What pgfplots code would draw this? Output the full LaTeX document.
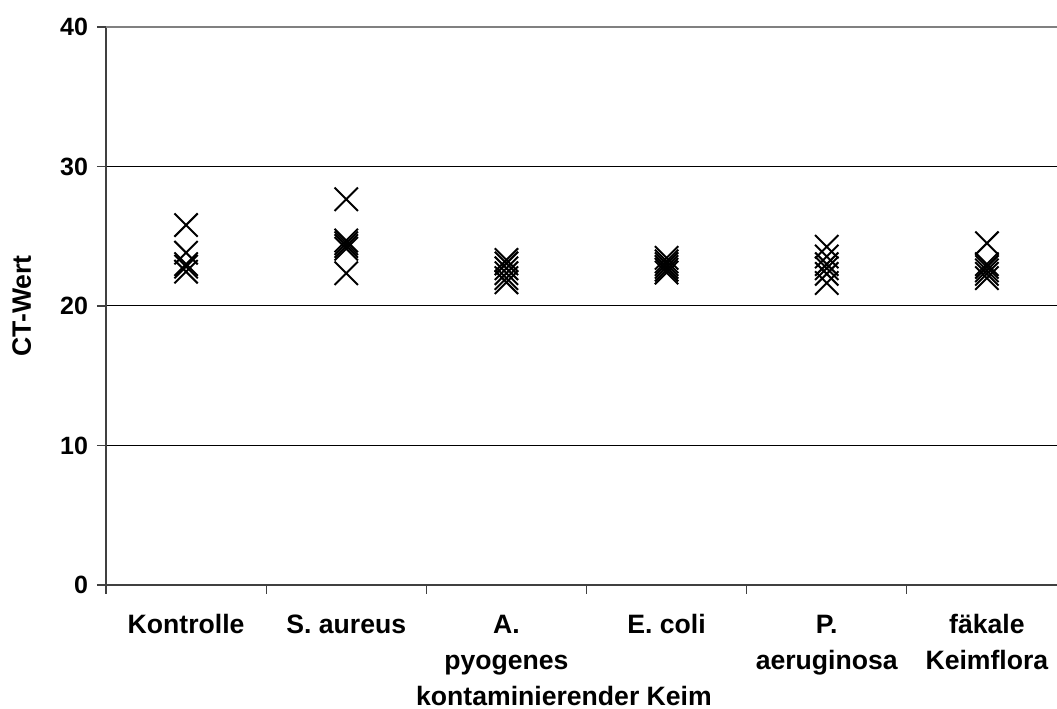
\documentclass[border=0pt]{standalone}
\usepackage{pgfplots}
\pgfplotsset{compat=1.18}
\usepackage{fontspec}
\setmainfont{Liberation Sans}

\newcommand{\yl}[1]{{\fontsize{12.5}{14}\selectfont\bfseries #1}}

% CT values per contaminant (x = category centre)
\pgfplotstableread{
x y
0.5 25.80
0.5 23.82
0.5 23.00
0.5 22.82
0.5 22.46
}\kontrolle
\pgfplotstableread{
x y
1.5 27.65
1.5 24.70
1.5 24.50
1.5 24.30
1.5 24.10
1.5 22.35
}\saureus
\pgfplotstableread{
x y
2.5 23.30
2.5 23.05
2.5 22.70
2.5 22.35
2.5 22.00
2.5 21.70
}\apyogenes
\pgfplotstableread{
x y
3.5 23.45
3.5 23.20
3.5 23.00
3.5 22.80
3.5 22.60
3.5 22.40
}\ecoli
\pgfplotstableread{
x y
4.5 24.25
4.5 23.55
4.5 23.00
4.5 22.70
4.5 22.30
4.5 21.65
}\paeruginosa
\pgfplotstableread{
x y
5.5 24.50
5.5 23.00
5.5 22.80
5.5 22.55
5.5 22.30
5.5 22.00
}\faekal

\begin{document}
\begin{tikzpicture}
\begin{axis}[
  name=ax,
  scale only axis,
  width=480.5pt, height=279pt,
  xmin=0, xmax=6, ymin=0, ymax=40,
  axis x line*=bottom, axis y line*=left,
  axis line style={black!75, line width=1pt},
  xtick={0,...,6},
  x tick label as interval,
  xticklabels={\strut Kontrolle, \strut S. aureus, {\strut A.\\pyogenes}, \strut E. coli, {\strut P.\\aeruginosa}, {\strut fäkale\\Keimflora}},
  ytick={0,10,20,30,40},
  yticklabels={\yl{0},\yl{10},\yl{20},\yl{30},\yl{40}},
  ymajorgrids,
  major grid style={black, line width=0.5pt},
  tick align=outside,
  major tick length=4.5pt,
  tick style={black!75, line width=0.6pt},
  xticklabel style={font=\fontsize{13.3}{18}\selectfont\bfseries, align=center, anchor=north, yshift=-3.5pt},
  yticklabel style={anchor=east, xshift=-1pt},
  xlabel={kontaminierender Keim},
  ylabel={CT-Wert},
  xlabel style={font=\fontsize{13.3}{15}\selectfont\bfseries, at={(axis description cs:0.4766,0)}, anchor=base, yshift=-60.5pt},
  ylabel style={font=\fontsize{13.3}{15}\selectfont\bfseries, at={(axis description cs:-0.0877,0.5)}, anchor=center},
  clip=false,
]
\addplot[only marks, mark=x, mark size=8.25pt, mark options={line width=1pt}, black] table {\kontrolle};
\addplot[only marks, mark=x, mark size=8.25pt, mark options={line width=1pt}, black] table {\saureus};
\addplot[only marks, mark=x, mark size=8.25pt, mark options={line width=1pt}, black] table {\apyogenes};
\addplot[only marks, mark=x, mark size=8.25pt, mark options={line width=1pt}, black] table {\ecoli};
\addplot[only marks, mark=x, mark size=8.25pt, mark options={line width=1pt}, black] table {\paeruginosa};
\addplot[only marks, mark=x, mark size=8.25pt, mark options={line width=1pt}, black] table {\faekal};
% grey plot-area border along the top
\draw[gray, line width=1pt] (axis cs:0,40) -- (axis cs:6,40);
\end{axis}
\pgfresetboundingbox
\useasboundingbox ([xshift=-53pt,yshift=-62pt]ax.south west) rectangle ([xshift=475.5pt,yshift=13.5pt]ax.north west);
\end{tikzpicture}
\end{document}
